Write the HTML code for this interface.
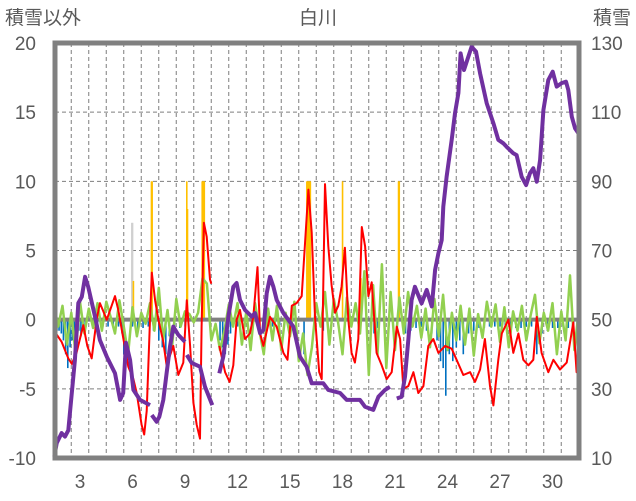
<!DOCTYPE html>
<html><head><meta charset="utf-8"><style>
html,body{margin:0;padding:0;background:#fff;}
svg{display:block;font-family:"Liberation Sans","Noto Sans CJK JP",sans-serif;}
</style></head><body>
<svg id="chart" width="636" height="501" viewBox="0 0 636 501" xmlns="http://www.w3.org/2000/svg"></svg>
<script>
// ---- data ----
const leftTicks = [20, 15, 10, 5, 0, -5, -10];
const rightTicks = [130, 110, 90, 70, 50, 30, 10];
const dayLabels = [3, 6, 9, 12, 15, 18, 21, 24, 27, 30];
const snowT = [1.53,1.67,1.95,2.14,2.33,2.53,2.71,2.9,3.1,3.29,3.47,3.86,4.14,4.53,5.0,5.29,5.47,5.63,5.86,6.05,6.43,7.0,null,7.1,7.38,7.53,7.76,7.95,8.14,8.33,8.62,9.0,null,9.1,9.38,9.86,10.14,10.56,null,10.96,11.19,11.48,11.76,11.95,12.14,12.43,12.81,13.0,13.29,13.48,13.67,13.86,14.05,14.24,14.62,15.19,15.57,15.95,16.24,16.71,16.9,17.19,17.86,18.24,19.0,19.29,19.76,20.05,20.43,20.71,null,21.1,21.38,21.57,21.76,21.95,22.14,22.52,22.81,23.1,23.29,23.48,23.67,23.76,23.95,24.24,24.43,24.62,24.75,24.94,25.13,25.38,25.63,25.86,26.24,26.62,26.9,27.19,27.38,27.76,27.95,28.24,28.49,28.71,28.9,29.1,29.29,29.48,29.76,30.01,30.24,30.52,30.77,30.9,31.1,31.29,31.48];
const snowV = [10.4,14.3,17.2,16.2,18,28.8,38.3,54.8,56.6,62.4,59.5,50.9,44.1,39.3,34.5,26.8,28.8,43.3,38.3,29.7,26.8,25.3,null,22.4,20.5,21.9,26.8,34.5,42.2,48,45.6,43.6,null,39.8,37.5,36.4,30.6,25.3,null,34.5,39.3,50.9,59.5,60.6,55.7,52.8,50.9,51.9,46.1,47,57.6,62.4,59.5,55.7,51.9,48,39.3,36.4,31.6,31.6,31.6,29.7,28.8,26.8,26.8,24.8,23.9,27.7,29.7,30.6,null,27.2,27.7,33.5,44.1,55.7,59.5,54.7,58.6,53.8,64.4,69.2,73,82.7,91.3,102,109.7,115.5,127,122.2,125.1,128.9,127.5,121.2,112.6,106.8,102,101,100,98.1,97.6,91.3,88.9,92.3,93.8,89.9,96.2,110.6,119.3,121.7,117.4,118.4,118.8,116.4,108.7,105.3,103.9];
const tempT = [1.57,1.95,2.33,2.53,2.8,3.19,3.42,3.67,3.95,4.14,4.53,5.0,5.19,5.48,5.76,6.05,6.24,6.52,6.67,6.81,7.0,7.1,7.29,7.48,7.76,7.95,8.33,8.62,8.9,9.1,9.29,9.48,9.67,9.86,9.95,10.08,10.24,10.43,10.5,null,10.96,11.29,11.55,11.76,11.95,12.14,12.43,12.71,12.9,13.14,13.29,13.48,13.86,14.24,14.62,14.86,15.1,15.38,15.67,15.86,16.05,16.24,16.43,16.67,16.81,17.0,17.19,17.38,17.57,17.76,17.95,18.14,18.33,18.52,18.71,18.9,19.1,19.29,19.48,19.67,19.95,20.24,20.52,20.81,21.1,21.29,21.48,21.76,22.05,22.33,22.62,22.9,23.19,23.48,23.86,24.24,24.52,24.9,25.29,25.57,25.86,26.14,26.43,26.62,26.9,27.1,27.48,27.76,28.05,28.33,28.62,28.9,29.1,29.38,29.76,30.05,30.43,30.81,31.19,31.38,31.48];
const tempV = [-0.9,-1.6,-2.8,-3.2,-2.4,-0.4,-1.9,-2.8,0,1.2,0,1.7,0.7,-1.4,-3.4,-4.3,-5.3,-7.6,-8.3,-6.6,0,3.4,1.4,0,-1.6,-3.3,-1.9,-4,-3.1,1.4,-1.9,-6,-7.6,-8.6,-0.5,7,6,2.9,2.6,null,-1.9,-3.8,-4.5,-3.3,0,0.7,-1.4,-1,0.2,3.8,-1,-1.9,0.2,-0.5,-2.4,-2.9,1,1.2,1.7,5.5,9.4,6.3,0.2,-3.8,-4.3,9.8,5.3,2.5,0.5,1,2.4,5.2,0,-2.4,-3.1,-1.4,6.7,5.3,1.7,2.7,-2.4,-3.3,-4.3,-3.8,-0.5,-1.4,-5,-4.8,-3.8,-5.3,-4.8,-1.9,-1.4,-2.4,-1.9,-2.1,-2.9,-4,-3.8,-4.5,-3.6,-1.4,-4.8,-6.2,-2.9,-1,0,-2.4,-1,-2.9,-3.3,-2.9,0.2,-2.4,-3.8,-2.9,-3.6,-3.1,-0.2,-3.8,-3.1];
// green series, every 0.25 day from day 1.5
const windV = [1.2,-0.5,1,-1.8,0.5,-2.5,1.3,-1,0.8,-0.6, 1.2,-0.8,1.3,0.2,-1,1.4,-0.5,-2.5,0.9,-1.2, 0.5,-0.3,1.2,-0.8,2.3,-1.5,0.7,-2.1,1.5,-0.5, 0.6,0.4,-0.2,0.5,3,2.6,-1.5,-0.3,-2.2,-0.8, 1.1,-0.5,1.2,-1.8,0.6,-2.2,1.2,-0.8,-2.5,0.8, -1.5,1.0,-2.2,0.5,-1.2,1.3,-3,-1,-4,-2, 1.2,-0.5,2,-1.8,1.5,-0.2,-2.5,1.6,-0.5,1.2, -1,3.5,-4,2.5,-2.5,4,-3.5,2,-2.2,1.6, -1,2,-0.5,1,-1.3,0.8,-2,1.5,-1.2,1.8, -2.2,0.5,-1.5,1,-1.8,0.8,-2.6,0.4,-1.3,1.3, -0.5,1.1,-1.6,0.9,-2,0.6,-0.8,1,-1.5,0.3, 1.8,-1.7,0.5,-0.8,1.2,-2.5,0.6,-1.5,3.2,-2.2,0.7];
const blueT = [1.55,1.68,1.8,1.93,2.05,2.18,2.3,2.43,2.55,2.68,2.8,2.93,3.05,3.18,3.3,4.0,4.3,4.6,4.9,5.2,5.4,5.5,6.0,6.3,6.6,6.9,7.2,7.5,7.7,7.9,8.1,8.4,8.7,9.0,11.0,11.15,11.3,11.45,11.6,12.0,12.4,12.8,13.2,13.6,14.0,14.4,15.8,16.9,19.6,19.8,20.0,21.6,21.9,22.2,22.5,22.8,23.1,23.4,23.6,23.75,23.9,24.1,24.3,24.5,24.7,24.9,25.2,25.5,25.8,26.1,26.4,26.7,27,27.3,27.6,27.9,28.2,28.5,28.8,29.1,29.4,29.7,30,30.3,30.6,30.9,31.2,31.4];
const blueV = [-0.8,-0.8,-0.8,-1,-1.5,-2.5,-3.5,-2,-1.5,-2,-1,-0.8,-1.2,-0.6,-0.5,-0.4,-0.5,-0.5,-0.4,-0.5,-1,-2.5,-0.5,-0.8,-0.6,-0.5,-0.8,-1.5,-2,-2.5,-1.2,-1,-0.6,-0.5,-1.5,-2,-2.5,-1.8,-1,-0.5,-0.4,-0.6,-0.5,-0.4,-0.5,-0.4,-2.5,-0.8,-0.6,-1,-0.6,-1,-0.8,-0.6,-0.5,-0.8,-1,-1.5,-3,-3.5,-5.5,-2.5,-3,-2,-1.5,-2.5,-1,-0.8,-0.6,-0.6,-0.5,-0.5,-0.5,-0.5,-0.5,-0.6,-0.6,-0.5,-0.5,-2.5,-1,-0.8,-0.6,-0.6,-0.5,-0.6,-0.5,-0.5];
const yellowT = [6.05,7.08,7.12,9.1,9.14,9.98,10.02,10.06,10.1,15.96,16.0,16.04,16.08,16.12,16.16,18.0,19.05,21.2,21.24];
const yellowV = [2.8,10,10,10,8,10,10,10,10,10,10,10,10,10,10,10,3,10,10];
const grayT = [5.96,6.0];
const grayV = [7,7];

// ---- axes ----
const L=55,R=579,T=43,B=458;
const x = d => 80 + (d-3)*17.5;
const yL = v => B - (v+10)*(B-T)/30;
const yR = v => B - (v-10)*(B-T)/120;
const svg = document.getElementById('chart');
const NS='http://www.w3.org/2000/svg';
function mk(tag, attrs, parent){const e=document.createElementNS(NS,tag);for(const k in attrs)e.setAttribute(k,attrs[k]);(parent||svg).appendChild(e);return e;}

// gridlines
const grid = mk('g',{});


for(let d=2.5; d<31.5; d+=1){ mk('line',{x1:x(d),x2:x(d),y1:T,y2:B,stroke:'#7f7f7f','stroke-width':1,'stroke-dasharray':'4,3'},grid); }
leftTicks.forEach(v=>{ if(v!==0 && v!==20 && v!==-10) mk('line',{x1:L,x2:R,y1:yL(v),y2:yL(v),stroke:'#7f7f7f','stroke-width':1,'stroke-dasharray':'4,3'},grid); });

// bars
function bars(ts, vs, color, name){
  const g=mk('g',{});
  
  
  ts.forEach((t,i)=>{
    const v=vs[i]; const y0=yL(0), y1=yL(v);
    const r=mk('rect',{x:x(t)-0.75,y:Math.min(y0,y1),width:1.6,height:Math.abs(y1-y0),fill:color},g);
    
    
  });
}
bars(blueT, blueV, '#0070c0', 'blue-series');
bars(grayT, grayV, '#d0d0d0', 'gray-series');
bars(yellowT, yellowV, '#ffc000', 'yellow-series');

// zero line
const zl=mk('line',{x1:L,x2:R,y1:yL(0),y2:yL(0),stroke:'#808080','stroke-width':4});



function pathFrom(ts, vs, yf){
  let d='', pen=false;
  ts.forEach((t,i)=>{ const v=vs[i]; if(t===null||v===null){pen=false;return;} d+=(pen?'L':'M')+x(t).toFixed(1)+','+yf(v).toFixed(1); pen=true; });
  return d;
}
const windT = windV.map((_,i)=>1.5+i*0.25);
const gl=mk('path',{d:pathFrom(windT,windV,yL),fill:'none',stroke:'#92d050','stroke-width':2.5,'stroke-linejoin':'round'});


const rl=mk('path',{d:pathFrom(tempT,tempV,yL),fill:'none',stroke:'#ff0000','stroke-width':2,'stroke-linejoin':'round'});


const pl=mk('path',{d:pathFrom(snowT,snowV,yR),fill:'none',stroke:'#7030a0','stroke-width':4,'stroke-linejoin':'round'});



// frame
const fr=mk('rect',{x:L,y:T,width:R-L,height:B-T,fill:'none',stroke:'#808080','stroke-width':5});



// labels
function txt(s, ax, ay, anchor, name){
  const e=mk('text',{x:ax,y:ay,'text-anchor':anchor,'font-size':19,fill:'#595959'});
  e.textContent=s;
  
  
  return e;
}
leftTicks.forEach(v=>txt(String(v),36,yL(v)+7,'end','left-tick-label'));
rightTicks.forEach(v=>txt(String(v),591,yR(v)+7,'start','right-tick-label'));
dayLabels.forEach(d=>txt(String(d),x(d),488,'middle','x-tick-label'));
txt('積雪以外',5,24,'start','left-axis-title');
txt('白川',318,24,'middle','chart-title');
txt('積雪',631,24,'end','right-axis-title');
</script>
</body></html>
